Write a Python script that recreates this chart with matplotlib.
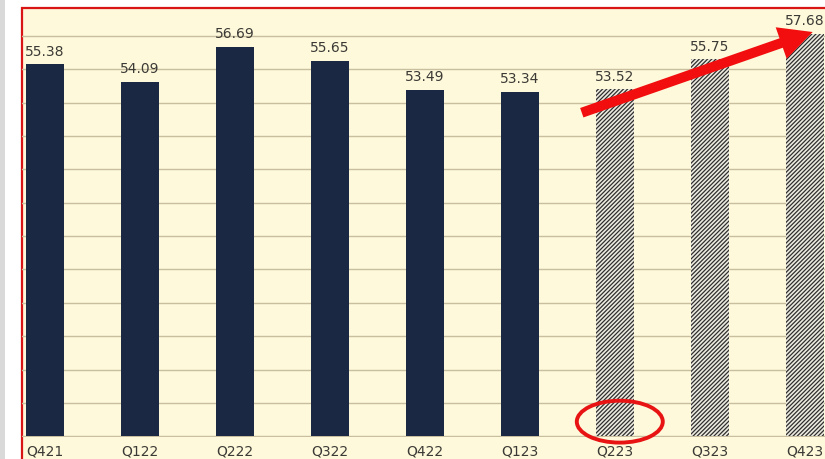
import numpy as np
import matplotlib.pyplot as plt
from matplotlib.patches import Rectangle, Ellipse

quarters = ["Q421", "Q122", "Q222", "Q322", "Q422", "Q123", "Q223", "Q323", "Q423"]
values = [55.38, 54.09, 56.69, 55.65, 53.49, 53.34, 53.52, 55.75, 57.68]
forecast = [False, False, False, False, False, False, True, True, True]

cream = "#FDF9DA"
navy = "#1B2844"
grid_col = "#C9BF9E"
text_col = "#3C3A36"

plt.rcParams["hatch.linewidth"] = 0.9

fig = plt.figure(figsize=(8.25, 4.59), dpi=100)
fig.patch.set_facecolor("white")

# grey strip at the far left and the red framed panel
fig.patches.append(Rectangle((0, 0), 5 / 825, 1, transform=fig.transFigure,
                             facecolor="#D9D9D9", edgecolor="none", zorder=-2))
fig.patches.append(Rectangle((22 / 825, -0.05), 1.0, 1.05 - 8 / 459,
                             transform=fig.transFigure, facecolor=cream,
                             edgecolor="#DA1515", linewidth=1.6, zorder=-2))

ax = fig.add_axes([22 / 825, 22 / 459, 1 - 22 / 825, (437 - 8) / 459])
ax.set_facecolor("none")

x = np.arange(len(quarters))
for xi, v, fc in zip(x, values, forecast):
    if fc:
        ax.bar(xi, v - 27.5, bottom=27.5, width=0.395, color="#EDEAE0",
               edgecolor="#2E2E2E", linewidth=0, hatch="////////", zorder=3)
    else:
        ax.bar(xi, v - 27.5, bottom=27.5, width=0.395, color=navy,
               linewidth=0, zorder=3)
    ax.annotate(f"{v:.2f}", (xi, v), xytext=(0, 4), textcoords="offset points",
                ha="center", va="bottom", fontsize=10, color=text_col, zorder=5)

ax.set_xlim(-0.242, 8.21)
ax.set_ylim(27.44, 59.6)
ax.set_yticks(np.arange(27.5, 59, 2.5))
ax.yaxis.grid(True, color=grid_col, linewidth=1.0, zorder=1)
ax.set_axisbelow(True)
ax.tick_params(left=False, labelleft=False, bottom=False)
ax.set_xticks(x)
ax.set_xticklabels(quarters, fontsize=10, color=text_col)
ax.tick_params(axis="x", pad=2)
for s in ax.spines.values():
    s.set_visible(False)

# trend arrow over the forecast quarters
ax.annotate("", xy=(8.08, 57.8), xytext=(5.65, 51.75),
            arrowprops=dict(arrowstyle="simple,head_width=1.5,head_length=1.5,tail_width=0.45",
                            mutation_scale=16, facecolor="#F20E0E", edgecolor="none",
                            shrinkA=0, shrinkB=0),
            zorder=6, annotation_clip=False)

# circle around the Q223 bar foot
ax.add_patch(Ellipse((6.05, 28.59), 0.905, 3.14, fill=False, edgecolor="#E81414",
                     linewidth=2.8, clip_on=False, zorder=7))

fig.savefig("out.png", dpi=100, facecolor=fig.get_facecolor())
